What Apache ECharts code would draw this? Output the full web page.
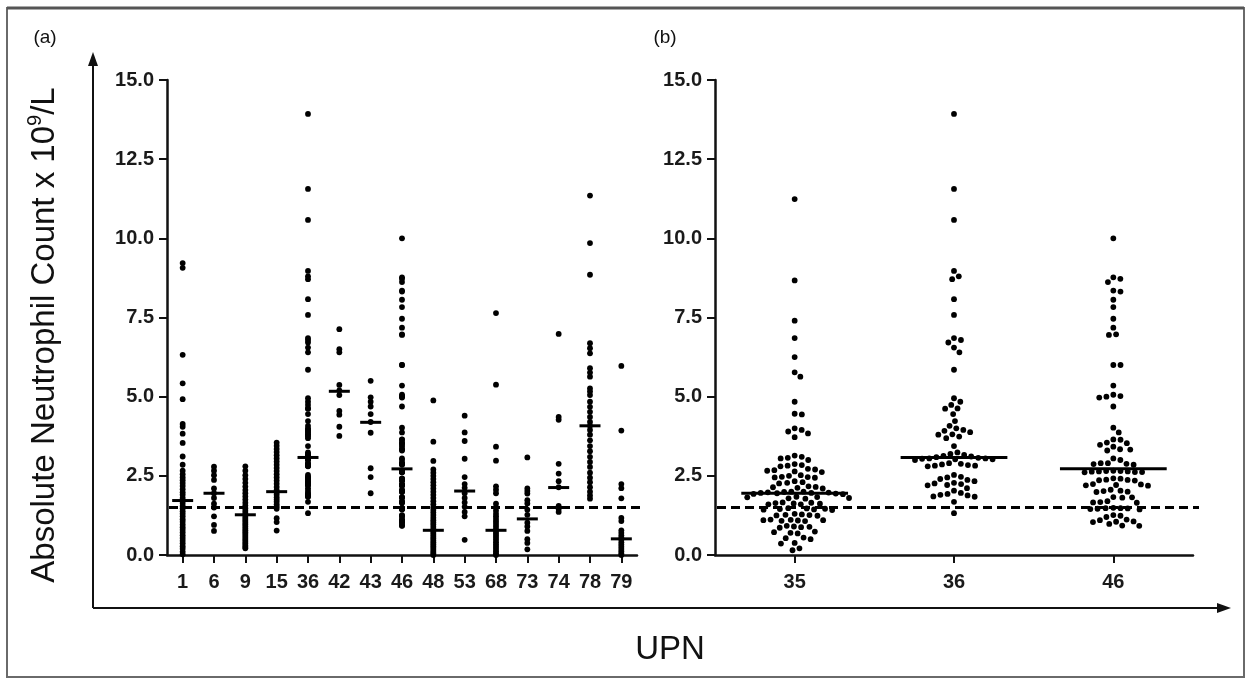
<!DOCTYPE html>
<html><head><meta charset="utf-8">
<script src="https://cdn.jsdelivr.net/npm/echarts@6/dist/echarts.min.js"></script>
<style>html,body{margin:0;padding:0;background:#fff}#c{width:1250px;height:680px}</style>
</head><body><div id="c"></div>
<script>
// ---------- data ----------
const upnA = ['1','6','9','15','36','42','43','46','48','53','68','73','74','78','79'];
const upnB = ['35','36','46'];

const g1 = [9.22,9.07,6.32,5.42,4.92,4.14,4.05,3.83,3.54,3.11,2.85,2.66,2.55,2.45,2.36,2.27,2.18,2.08,1.98,1.9,1.8,1.72,1.64,1.55,1.47,1.38,1.3,1.22,1.13,1.05,0.96,0.88,0.8,0.71,0.62,0.54,0.45,0.37,0.28,0.2,0.1,0.02];
const g6 = [2.79,2.66,2.52,2.37,2.1,1.95,1.8,1.62,1.5,1.22,0.95,0.76];
const g9 = [2.8,2.66,2.52,2.4,2.28,2.16,2.05,1.95,1.85,1.75,1.65,1.56,1.48,1.4,1.33,1.27,1.2,1.14,1.08,1.02,0.96,0.9,0.84,0.78,0.72,0.66,0.6,0.54,0.48,0.42,0.36,0.3,0.25,0.21];
const g15 = [3.55,3.45,3.35,3.25,3.15,3.05,2.95,2.85,2.75,2.65,2.55,2.45,2.35,2.25,2.15,2.05,1.97,1.9,1.82,1.75,1.68,1.6,1.53,1.46,1.16,1.04,0.77];
const g35 = [11.24,8.67,7.4,6.85,6.25,5.77,5.63,4.84,4.46,4.44,4.0,3.95,3.9,3.84,3.72,
  3.14,3.1,3.07,3.05,3.0,
  2.87,2.84,2.82,2.8,
  2.72,2.7,2.68,2.66,2.64,2.62,
  2.52,2.5,2.47,2.46,2.45,2.44,
  2.33,2.3,2.28,2.26,
  2.17,2.15,2.14,2.12,2.1,
  2.0,2.0,1.99,1.98,1.97,1.96,1.96,1.95,1.94,1.93,1.92,
  1.84,1.83,1.82,1.8,1.79,1.78,
  1.66,1.65,1.64,1.63,1.62,1.6,1.6,
  1.48,1.47,1.46,1.45,1.44,1.43,1.42,
  1.3,1.28,1.27,1.26,1.25,1.24,
  1.12,1.11,1.1,1.1,1.09,1.08,1.07,
  0.92,0.9,0.89,0.88,0.86,
  0.74,0.72,0.7,0.68,
  0.55,0.53,0.5,
  0.38,0.36,
  0.21,0.15];
const g36 = [13.93,11.56,10.58,8.97,8.8,8.71,8.08,7.58,6.85,6.79,6.71,6.55,6.4,5.85,
  4.95,4.84,4.74,4.63,4.62,4.45,4.23,
  4.08,4.0,3.95,3.92,3.88,3.81,3.8,3.74,3.69,3.44,
  3.24,3.19,3.16,3.13,3.11,3.09,3.07,3.05,3.05,3.04,3.02,3.02,3.0,
  2.9,2.88,2.86,2.84,2.82,2.82,2.8,
  2.53,2.47,2.45,2.4,2.37,2.33,2.28,2.26,2.24,2.21,2.2,2.11,2.03,
  1.96,1.93,1.9,1.88,1.85,1.84,1.68,1.32];
const g42 = [7.13,6.5,6.4,5.37,5.2,5.05,4.55,4.43,4.05,3.76];
const g43 = [5.5,4.98,4.84,4.69,4.45,4.2,3.86,2.74,2.46,1.95];
const g46 = [10.0,8.77,8.72,8.62,8.35,8.32,8.06,7.83,7.46,7.18,6.97,6.95,6.0,6.0,5.35,5.06,5.02,5.0,4.97,4.69,
  4.02,3.87,3.65,3.64,3.55,3.53,3.48,3.42,3.34,3.33,3.3,
  3.05,3.0,2.9,2.9,2.88,2.87,2.85,
  2.66,2.65,2.65,2.64,2.64,2.63,2.62,2.62,2.61,
  2.42,2.41,2.38,2.37,2.36,2.35,
  2.24,2.23,2.21,2.2,2.19,
  2.06,2.03,2.02,2.0,1.99,
  1.83,1.82,1.81,
  1.7,1.67,1.66,1.65,
  1.49,1.48,1.48,1.47,1.46,1.45,1.44,
  1.26,1.24,1.2,
  1.12,1.1,1.06,1.05,1.04,0.98,0.93,0.92];
const g48 = [4.88,3.58,2.97,2.7,2.6,2.5,2.4,2.3,2.2,2.1,2.0,1.9,1.8,1.7,1.6,1.5,1.42,1.34,1.26,1.18,1.1,1.03,0.96,0.89,0.82,0.76,0.7,0.64,0.58,0.52,0.46,0.4,0.34,0.28,0.22,0.16,0.1,0.05,0.0];
const g53 = [4.4,3.87,3.6,3.04,2.46,2.24,2.12,1.95,1.8,1.66,1.52,1.36,1.22,0.48];
const g68 = [7.64,5.38,3.42,2.98,2.17,2.06,1.95,1.62,1.5,1.4,1.3,1.22,1.14,1.06,0.98,0.9,0.82,0.75,0.68,0.61,0.54,0.47,0.4,0.33,0.26,0.19,0.12,0.05,0.0];
const g73 = [3.08,2.1,2.02,1.94,1.73,1.63,1.43,1.27,1.02,0.9,0.76,0.5,0.38,0.18];
const g74 = [6.98,4.36,4.27,2.88,2.57,2.33,2.14,1.55,1.45,1.36];
const g78 = [11.35,9.85,8.85,6.69,6.53,6.37,5.9,5.76,5.63,5.26,5.16,5.05,4.84,4.68,4.52,4.36,4.2,4.08,3.95,3.8,3.62,3.44,3.28,3.1,2.94,2.78,2.6,2.44,2.3,2.14,2.0,1.88,1.78];
const g79 = [5.97,3.93,2.24,2.11,1.79,1.17,1.07,0.78,0.7,0.62,0.55,0.48,0.4,0.33,0.26,0.19,0.12,0.05,0.0];

const groupsA = [g1,g6,g9,g15,g36,g42,g43,g46,g48,g53,g68,g73,g74,g78,g79];
const groupsB = [g35,g36,g46];
const medianA = [1.72,1.95,1.27,2.0,3.08,5.17,4.19,2.72,0.78,2.02,0.78,1.14,2.13,4.08,0.51];
const medianB = [1.95,3.08,2.72];
const threshold = 1.5;
const yTicks = {min:0, max:15, interval:2.5};

// ---------- chart ----------
const FONT = '"Liberation Sans", Arial, Helvetica, sans-serif';
const DOT_R = 2.9;
const SWARM_D = 7.2;

const scatterA = [];
groupsA.forEach((arr, i) => arr.forEach(v => scatterA.push([i, v])));
const beeData = [];
groupsB.forEach((arr, i) => arr.forEach(v => beeData.push([i, v])));

function computeSwarm(api) {
  const pos = new Array(beeData.length);
  groupsB.forEach((arr, ci) => {
    const pts = [];
    beeData.forEach((d, idx) => {
      if (d[0] === ci) { const c = api.coord([ci, d[1]]); pts.push({idx, cx: c[0], py: c[1], dx: 0}); }
    });
    pts.sort((a, b) => a.py - b.py);
    const placed = [];
    pts.forEach(p => {
      const iv = [];
      placed.forEach(q => {
        const dy = p.py - q.py;
        if (Math.abs(dy) < SWARM_D) { const h = Math.sqrt(SWARM_D * SWARM_D - dy * dy); iv.push([q.dx - h, q.dx + h]); }
      });
      const cands = [0];
      iv.forEach(r => cands.push(r[0], r[1]));
      cands.sort((a, b) => (Math.abs(a) - Math.abs(b)) || (b - a));
      let best = 0;
      for (const c of cands) {
        if (iv.every(r => c <= r[0] + 1e-6 || c >= r[1] - 1e-6)) { best = c; break; }
      }
      p.dx = best;
      placed.push(p);
      pos[p.idx] = [p.cx + best, p.py];
    });
  });
  return pos;
}

const axisLineStyle = {color: '#111', width: 2.5};
function xCat(grid, data) {
  return {
    type: 'category', gridIndex: grid, data: data, boundaryGap: true,
    axisLine: {show: true, lineStyle: axisLineStyle},
    axisTick: {show: true, alignWithLabel: true, length: 8, lineStyle: {color: '#111', width: 2}},
    axisLabel: {interval: 0, fontSize: 20, fontWeight: 'bold', color: '#1a1a1a', fontFamily: FONT, margin: 17},
    splitLine: {show: false}
  };
}
function yVal(grid) {
  return {
    type: 'value', gridIndex: grid, min: yTicks.min, max: yTicks.max, interval: yTicks.interval,
    axisLine: {show: true, lineStyle: axisLineStyle},
    axisTick: {show: true, length: 8, lineStyle: {color: '#111', width: 2}},
    axisLabel: {fontSize: 20, fontWeight: 'bold', color: '#1a1a1a', fontFamily: FONT, margin: 13, formatter: v => v.toFixed(1)},
    splitLine: {show: false}
  };
}
function medianSeries(xi, yi, data) {
  return {
    type: 'custom', xAxisIndex: xi, yAxisIndex: yi, silent: true, z: 5,
    data: data.map((m, i) => [i, m]),
    renderItem: function (params, api) {
      const c = api.coord([api.value(0), api.value(1)]);
      const w = api.size([1, 0])[0] * 0.335;
      return {type: 'line', shape: {x1: c[0] - w, y1: c[1], x2: c[0] + w, y2: c[1]}, style: {stroke: '#000', lineWidth: 3}};
    }
  };
}
function thresholdSeries(xi, yi) {
  return {
    type: 'custom', xAxisIndex: xi, yAxisIndex: yi, silent: true, z: 4,
    data: [[0, threshold]],
    renderItem: function (params, api) {
      const y = api.coord([0, api.value(1)])[1];
      const cs = params.coordSys;
      return {type: 'line', shape: {x1: cs.x + 2, y1: y, x2: cs.x + cs.width + 6, y2: y}, style: {stroke: '#000', lineWidth: 3, lineDash: [9, 5]}};
    }
  };
}

const chart = echarts.init(document.getElementById('c'), null, {renderer: 'canvas'});
chart.setOption({
  animation: false,
  backgroundColor: '#fff',
  grid: [
    {left: 167, top: 80, width: 470, height: 475},
    {left: 715, top: 80, width: 478, height: 475}
  ],
  xAxis: [xCat(0, upnA), xCat(1, upnB)],
  yAxis: [yVal(0), yVal(1)],
  series: [
    thresholdSeries(0, 0),
    thresholdSeries(1, 1),
    {
      type: 'scatter', xAxisIndex: 0, yAxisIndex: 0, data: scatterA, symbol: 'circle',
      symbolSize: DOT_R * 2, itemStyle: {color: '#000', opacity: 1}, silent: true, z: 3
    },
    {
      type: 'custom', xAxisIndex: 1, yAxisIndex: 1, data: beeData, silent: true, z: 3,
      renderItem: function (params, api) {
        const ctx = params.context;
        if (!ctx.pos) ctx.pos = computeSwarm(api);
        const p = ctx.pos[params.dataIndex];
        return {type: 'circle', shape: {cx: p[0], cy: p[1], r: DOT_R}, style: {fill: '#000'}};
      }
    },
    medianSeries(0, 0, medianA),
    medianSeries(1, 1, medianB)
  ],
  graphic: [
    {type: 'rect', shape: {x: 7, y: 8, width: 1237, height: 669}, style: {fill: 'none', stroke: '#6a6a6a', lineWidth: 2}, silent: true},
    {type: 'line', shape: {x1: 7, y1: 8, x2: 1244, y2: 8}, style: {stroke: '#555', lineWidth: 3}, silent: true},
    {type: 'line', shape: {x1: 93, y1: 608, x2: 93, y2: 62}, style: {stroke: '#111', lineWidth: 2}, silent: true},
    {type: 'polygon', shape: {points: [[93, 52], [88, 66], [98, 66]]}, style: {fill: '#111'}, silent: true},
    {type: 'line', shape: {x1: 93, y1: 608, x2: 1220, y2: 608}, style: {stroke: '#111', lineWidth: 2}, silent: true},
    {type: 'polygon', shape: {points: [[1231, 608], [1217, 603], [1217, 613]]}, style: {fill: '#111'}, silent: true},
    {type: 'text', x: 45, y: 38, style: {text: '(a)', font: '19px ' + FONT, fill: '#111', align: 'center', verticalAlign: 'middle'}, silent: true},
    {type: 'text', x: 665, y: 38, style: {text: '(b)', font: '19px ' + FONT, fill: '#111', align: 'center', verticalAlign: 'middle'}, silent: true},
    {type: 'text', x: 670, y: 650, style: {text: 'UPN', font: '33px ' + FONT, fill: '#111', align: 'center', verticalAlign: 'middle'}, silent: true},
    {type: 'text', x: 45, y: 335, rotation: Math.PI / 2, silent: true,
      style: {
        text: '{t|Absolute Neutrophil Count x 10}{s|9}{t|/L}',
        align: 'center', verticalAlign: 'middle', fill: '#111',
        rich: {
          t: {fontSize: 33, fontFamily: FONT, fill: '#111'},
          s: {fontSize: 20, fontFamily: FONT, fill: '#111', padding: [0, 0, 20, 0]}
        }
      }
    }
  ]
});
</script>
</body></html>
